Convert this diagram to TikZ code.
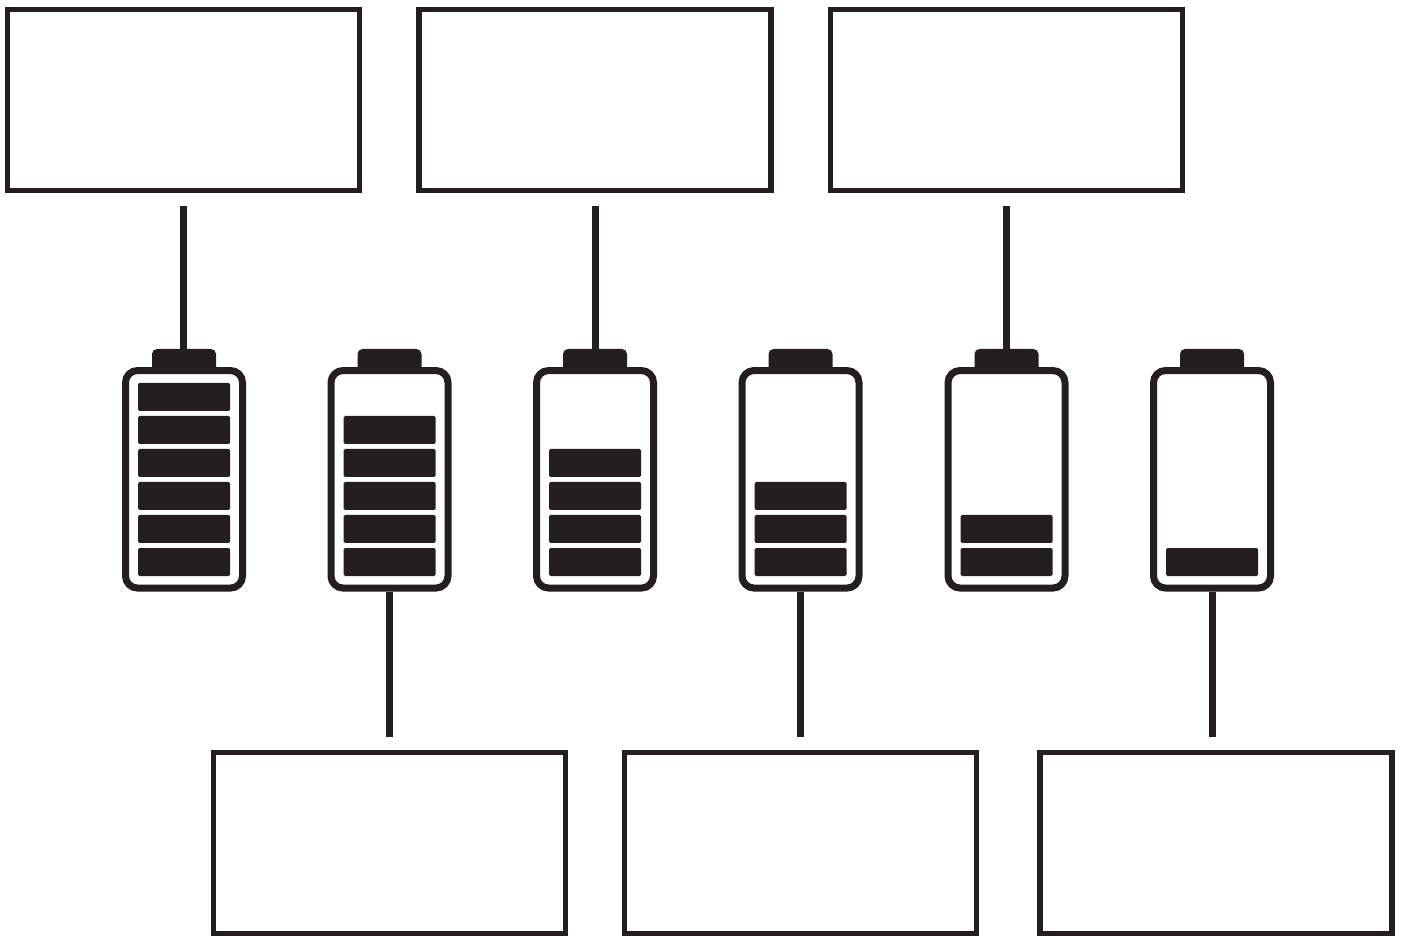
\documentclass[tikz,border=0pt]{standalone}
\usepackage{xcolor}
\usepackage{tikz}
\usetikzlibrary{positioning, calc}

\definecolor{inkdark}{HTML}{231F20}

\begin{document}
\begin{tikzpicture}[
        x=1pt, y=1pt,
        labelbox/.style={rectangle, draw=inkdark, line width=5.4pt, fill=white, minimum width=352pt, minimum height=181pt},
        cell/.style={rectangle, rounded corners=12pt, draw=inkdark, line width=7pt, fill=white, minimum width=117pt, minimum height=217.5pt},
        cellcap/.style={rectangle, rounded corners=5pt, fill=inkdark, minimum width=64pt, minimum height=23pt, inner sep=0pt},
        bar/.style={rectangle, rounded corners=1.5pt, fill=inkdark, minimum width=92pt, minimum height=28pt, inner sep=0pt},
        link/.style={draw=inkdark, line width=7pt}
    ]

    \useasboundingbox (0,0) rectangle (1404,935);

    % batteries, fullest on the left
    \foreach \i/\x/\n in {1/184/6, 2/389.5/5, 3/595/4, 4/800.5/3, 5/1006.5/2, 6/1212/1} {
        \node[cellcap] (cellcap\i) at (\x,574.5) {};
        \node[cell] (cell\i) at (\x,455.7) {};
        \foreach \k in {1,...,\n} {
            \node[bar] (bar\i-\k) at (\x,{373+33*(\k-1)}) {};
        }
    }

    % top boxes
    \node[labelbox] (topa) at (183.7,835) {};
    \node[labelbox] (topb) at (595,835) {};
    \node[labelbox] (topc) at (1006.5,835) {};

    % bottom boxes
    \node[labelbox] (bota) at (389.5,92) {};
    \node[labelbox] (botb) at (800.5,92) {};
    \node[labelbox] (botc) at (1216,92) {};

    \draw[link, shorten <=13pt] (topa.south) -- (topa.south |- cellcap1.north);
    \draw[link, shorten <=13pt] (topb.south) -- (topb.south |- cellcap3.north);
    \draw[link, shorten <=13pt] (topc.south) -- (topc.south |- cellcap5.north);

    \draw[link, shorten >=12.5pt] (cell2.south) -- (cell2.south |- bota.north);
    \draw[link, shorten >=12.5pt] (cell4.south) -- (cell4.south |- botb.north);
    \draw[link, shorten >=12.5pt] (cell6.south) -- (cell6.south |- botc.north);

\end{tikzpicture}
\end{document}
